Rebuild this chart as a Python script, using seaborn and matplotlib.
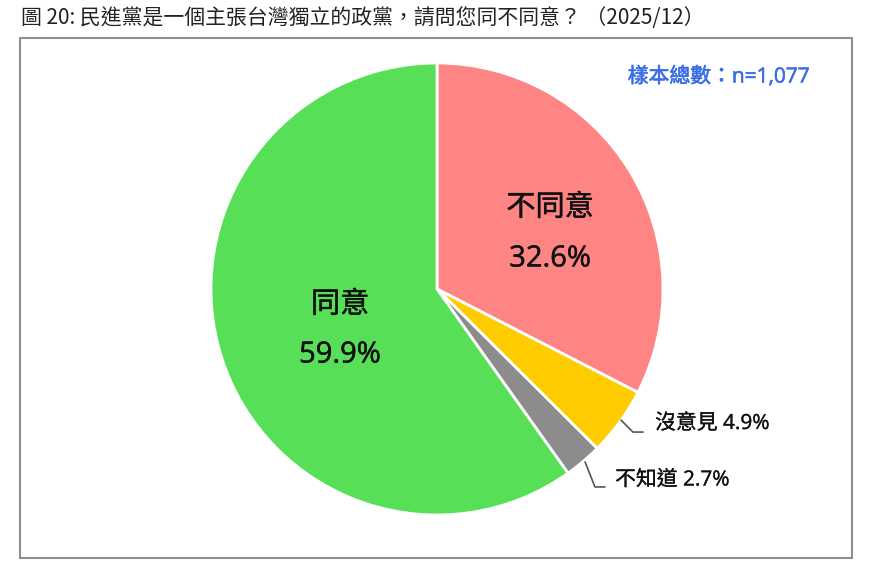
import matplotlib
matplotlib.use("Agg")
import matplotlib.pyplot as plt
import matplotlib.patheffects as pe
import seaborn as sns
from matplotlib.patches import Rectangle

sns.set_theme(style="white")
plt.rcParams['font.family'] = ['Noto Sans CJK TC', 'DejaVu Sans']

# Data
categories = ["不同意", "沒意見", "不知道", "同意"]
values = [32.6, 4.9, 2.7, 59.9]
colors = ["#FF8585", "#FFCC00", "#8C8C8C", "#57E057"]
title = "圖 20: 民進黨是一個主張台灣獨立的政黨，請問您同不同意？ （2025/12）"
sample_note = "樣本總數：n=1,077"

W, H = 870, 577
fig = plt.figure(figsize=(W / 100, H / 100), dpi=100)

# Frame box
fig.patches.append(Rectangle((20 / W, 1 - 558 / H), (852 - 20) / W, (558 - 38) / H,
                             transform=fig.transFigure, fill=False,
                             edgecolor="#8f8f8f", linewidth=1.5))

# Pie axes
cx, cy, r = 437, 289, 226
ax = fig.add_axes([(cx - r) / W, (H - cy - r) / H, 2 * r / W, 2 * r / H])
ax.pie(values, colors=colors, startangle=90, counterclock=False,
       wedgeprops=dict(edgecolor="white", linewidth=2))
ax.set_xlim(-1, 1)
ax.set_ylim(-1, 1)
ax.set_aspect("equal")
ax.axis("off")

lab_fam = ['Open Sans', 'Noto Sans CJK TC', 'DejaVu Sans']
inner_pe = [pe.withStroke(linewidth=0.35, foreground="#111")]
outer_pe = [pe.withStroke(linewidth=0.2, foreground="#111")]

# Inner labels
inner_fs = 21
for x, y, s in [(0.50, 0.358, categories[0]), (0.50, 0.133, f"{values[0]}%"),
                (-0.429, -0.071, categories[3]), (-0.429, -0.292, f"{values[3]}%")]:
    ax.text(x, y, s, ha="center", va="center", fontsize=inner_fs, color="#111",
            family=lab_fam, path_effects=inner_pe)

# Outer labels with leader lines
outer_fs = 15
ax.plot([0.814, 0.867, 0.912], [-0.580, -0.633, -0.633], color="#555", lw=1.2, clip_on=False)
ax.text(0.965, -0.595, f"{categories[1]} {values[1]}%", ha="left", va="center",
        fontsize=outer_fs, color="#111", family=lab_fam, path_effects=outer_pe, clip_on=False)
ax.plot([0.655, 0.699, 0.743], [-0.765, -0.876, -0.876], color="#555", lw=1.2, clip_on=False)
ax.text(0.788, -0.845, f"{categories[2]} {values[2]}%", ha="left", va="center",
        fontsize=outer_fs, color="#111", family=lab_fam, path_effects=outer_pe, clip_on=False)

# Sample size note
fig.text(810 / W, 1 - 77 / H, sample_note, ha="right", va="center",
         fontsize=15, color="#3B6EE6", family=lab_fam,
         path_effects=[pe.withStroke(linewidth=0.4, foreground="#3B6EE6")])

# Title
fig.text(21 / W, 1 - 18 / H, title, ha="left", va="center", fontsize=15, color="#222")

fig.savefig("out.png", dpi=100, facecolor="white")
